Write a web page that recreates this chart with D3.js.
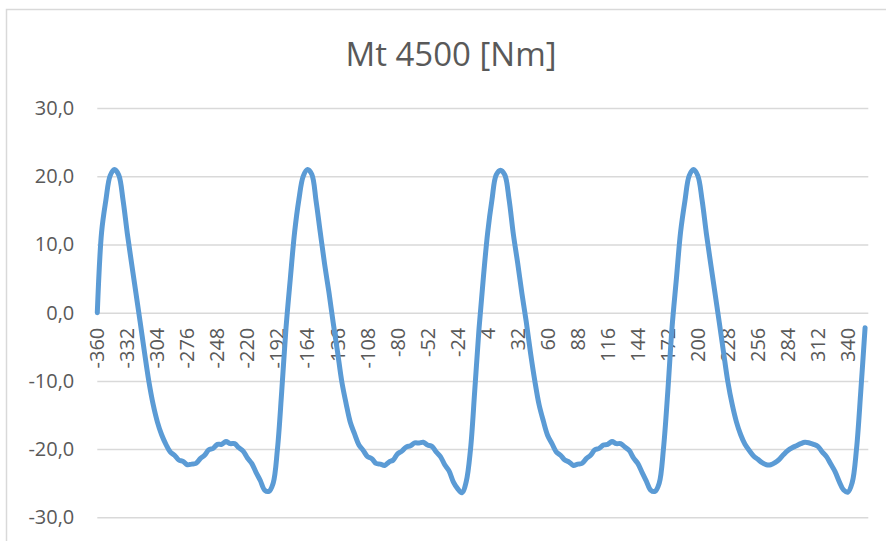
<!DOCTYPE html>
<html>
<head>
<meta charset="utf-8">
<script src="https://cdn.jsdelivr.net/npm/d3@7"></script>
<style>
  html, body { margin: 0; padding: 0; background: #ffffff; }
  svg { display: block; }
</style>
</head>
<body>
<svg id="chart" width="886" height="541"></svg>
<script>
// Torque over crank angle, 4500 rpm
const titleText = "Mt 4500 [Nm]";

// crank angle categories [deg], sampled every 4 degrees
const angles = d3.range(-360, 360, 4);
// measured angle span of the record [deg]
const angleSpan = [-360, 359];

// torque [Nm], one value per angle
const torque = [
  // -360 .. -184
  0.0, 11.8, 16.5, 20.1, 21.0, 20.2, 16.5, 11.6, 7.2, 2.9, -1.4, -5.8, -10.0, -13.4, -16.0,
  -17.9, -19.3, -20.4, -20.9, -21.6, -21.8, -22.3, -22.2, -22.1, -21.4, -20.9, -20.1, -19.9, -19.3, -19.3,
  -18.9, -19.2, -19.2, -19.8, -20.3, -21.3, -22.1, -23.4, -24.6, -26.0, -26.2, -25.0, -20.0, -11.5, -2.2,
  // -180 .. -4
  5.0, 11.8, 16.6, 20.0, 21.0, 20.3, 16.4, 11.7, 7.1, 3.0, -1.5, -5.7, -10.1, -13.3, -16.1,
  -17.8, -19.4, -20.2, -21.1, -21.4, -22.1, -22.2, -22.4, -21.9, -21.6, -20.7, -20.3, -19.7, -19.5, -19.1,
  -19.1, -19.0, -19.4, -19.6, -20.4, -21.1, -22.3, -23.2, -24.8, -25.8, -26.4, -24.8, -20.1, -11.4, -2.3,
  // 0 .. 176
  5.1, 11.7, 16.5, 20.2, 20.9, 20.2, 16.6, 11.5, 7.3, 2.8, -1.3, -5.9, -10.0, -13.5, -15.9,
  -18.0, -19.2, -20.4, -20.9, -21.6, -21.9, -22.4, -22.2, -22.1, -21.4, -20.9, -20.1, -19.9, -19.4, -19.3,
  -18.9, -19.2, -19.2, -19.7, -20.2, -21.3, -22.1, -23.4, -24.7, -26.0, -26.2, -25.0, -19.9, -11.6, -2.1,
  // 180 .. 356
  4.9, 11.9, 16.4, 20.1, 21.0, 20.1, 16.5, 11.6, 7.2, 2.9, -1.4, -5.8, -10.1, -13.4, -16.0,
  -17.9, -19.3, -20.2, -21.0, -21.5, -22.0, -22.3, -22.3, -22.0, -21.5, -20.8, -20.2, -19.8, -19.5, -19.2,
  -19.0, -19.1, -19.3, -19.6, -20.4, -21.1, -22.2, -23.3, -24.8, -26.0, -26.3, -24.9, -20.0, -11.5, -2.2
];

// category labels shown on the horizontal axis
const xTickLabels = [-360, -332, -304, -276, -248, -220, -192, -164, -136, -108, -80, -52, -24,
  4, 32, 60, 88, 116, 144, 172, 200, 228, 256, 284, 312, 340];
// value axis ticks
const yTicks = [-30, -20, -10, 0, 10, 20, 30];

const series = angles.map((a, i) => ({ angle: a, value: torque[i] }));

const W = 886, H = 541;
const plot = { left: 97.3, right: 868.3, top: 108.1, bottom: 517.3 };
const textColor = "#595959";
const gridColor = "#D9D9D9";
const lineColor = "#5B9BD5";
const fontFamily = "'Open Sans', 'Liberation Sans', sans-serif";

const svg = d3.select("#chart");

// chart area frame
svg.append("rect")
  .attr("x", 6.5).attr("y", 9.5)
  .attr("width", W + 20).attr("height", H + 20)
  .attr("fill", "#ffffff")
  .attr("stroke", gridColor)
  .attr("stroke-width", 1.5);

const x = d3.scaleLinear().domain(angleSpan).range([plot.left, plot.right]);
const y = d3.scaleLinear().domain([-30, 30]).range([plot.bottom, plot.top]);

const locale = d3.formatLocale({ decimal: ",", thousands: ".", grouping: [3], currency: ["", ""], minus: "-" });
const fmt = locale.format(".1f");

// value axis with horizontal gridlines
const yAxis = d3.axisLeft(y)
  .tickValues(yTicks)
  .tickFormat(fmt)
  .tickSize(-(plot.right - plot.left))
  .tickPadding(23);

const gy = svg.append("g")
  .attr("transform", `translate(${plot.left},0)`)
  .call(yAxis);
gy.select(".domain").remove();
gy.selectAll(".tick line")
  .attr("stroke", gridColor)
  .attr("stroke-width", 1.5);
gy.selectAll(".tick text")
  .attr("fill", textColor)
  .style("font-family", fontFamily)
  .style("font-size", "20px");

// category labels, rotated, hanging below the zero line
const gx = svg.append("g").attr("class", "x-labels");
gx.selectAll("text")
  .data(xTickLabels)
  .join("text")
  .attr("transform", d => `translate(${x(d)},${y(0) + 15}) rotate(-90)`)
  .attr("text-anchor", "end")
  .attr("dy", "0.35em")
  .attr("fill", textColor)
  .style("font-family", fontFamily)
  .style("font-size", "20px")
  .text(d => String(d));

// torque curve
const line = d3.line()
  .x(d => x(d.angle))
  .y(d => y(d.value))
  .curve(d3.curveCatmullRom.alpha(0.5));

svg.append("path")
  .datum(series)
  .attr("d", line)
  .attr("fill", "none")
  .attr("stroke", lineColor)
  .attr("stroke-width", 5)
  .attr("stroke-linejoin", "round")
  .attr("stroke-linecap", "round");

// title
svg.append("text")
  .attr("x", 451)
  .attr("y", 66)
  .attr("text-anchor", "middle")
  .attr("fill", textColor)
  .style("font-family", fontFamily)
  .style("font-size", "33px")
  .text(titleText);
</script>
</body>
</html>
